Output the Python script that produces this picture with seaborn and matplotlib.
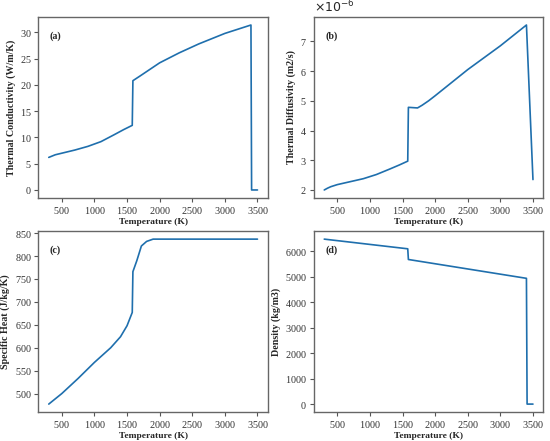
import matplotlib
matplotlib.use("Agg")
import matplotlib.pyplot as plt
from matplotlib.ticker import MultipleLocator
import seaborn as sns
import pandas as pd

# temperature dependent properties
temp_cond = [300, 400, 500, 700, 900, 1100, 1300, 1450, 1580, 1590, 1700, 2000,
             2300, 2600, 3000, 3400, 3410, 3500]
conductivity = [6.2, 6.7, 7.0, 7.6, 8.3, 9.2, 10.5, 11.5, 12.3, 20.8, 21.7, 24.2,
                26.1, 27.8, 29.8, 31.4, 0.0, 0.0]

temp_diff = [300, 350, 400, 500, 700, 900, 1100, 1300, 1450, 1580, 1590, 1730,
             1800, 1900, 2000, 2500, 3000, 3400, 3500]
diffusivity = [2.0e-6, 2.06e-6, 2.11e-6, 2.18e-6, 2.28e-6, 2.38e-6, 2.52e-6, 2.7e-6,
               2.84e-6, 2.97e-6, 4.78e-6, 4.76e-6, 4.85e-6, 5.0e-6, 5.17e-6,
               6.05e-6, 6.85e-6, 7.55e-6, 2.35e-6]

temp_cp = [300, 500, 750, 1000, 1250, 1400, 1500, 1580, 1590, 1650, 1720, 1800,
           1900, 3500]
specific_heat = [477, 500, 533, 568, 600, 624, 648, 677, 766, 790, 822, 832,
                 837, 837]

temp_rho = [300, 1580, 1590, 3400, 3410, 3500]
density = [6480, 6100, 5680, 4940, 0, 0]

panels = [
    ("(a)", temp_cond, conductivity, "Thermal Conductivity (W/m/K)", 5),
    ("(b)", temp_diff, diffusivity, "Thermal Diffusivity (m2/s)", 1e-6),
    ("(c)", temp_cp, specific_heat, "Specific Heat (J/kg/K)", 50),
    ("(d)", temp_rho, density, "Density (kg/m3)", 1000),
]

sns.set_style("ticks")
plt.rcParams["font.family"] = ["DejaVu Sans"]
plt.rcParams["axes.formatter.use_mathtext"] = True

serif = "Liberation Serif"
line_color = "#1f6fad"

fig, axes = plt.subplots(2, 2, figsize=(5.5, 4.41), dpi=100)
fig.subplots_adjust(left=0.0697, right=0.988, top=0.962, bottom=0.065,
                    wspace=0.2, hspace=0.18)

for ax, (tag, t, y, ylabel, ystep) in zip(axes.flat, panels):
    df = pd.DataFrame({"T": t, "v": y})
    sns.lineplot(data=df, x="T", y="v", ax=ax, color=line_color, linewidth=1.2,
                 sort=False, estimator=None)
    ax.set_xlabel("Temperature (K)", fontsize=6.8, fontweight="bold",
                  family=serif, labelpad=1)
    ax.set_ylabel(ylabel, fontsize=7.2, fontweight="bold", family=serif, labelpad=3)
    ax.xaxis.set_major_locator(MultipleLocator(500))
    ax.yaxis.set_major_locator(MultipleLocator(ystep))
    ax.set_xlim(140, 3660)
    fig.canvas.draw()
    for lab in ax.get_xticklabels() + ax.get_yticklabels():
        lab.set_family(serif)
        lab.set_fontsize(7.3)
        lab.set_color("#333333")
    ax.tick_params(length=3, width=0.8, color="#555555", pad=2)
    for sp in ax.spines.values():
        sp.set_color("#666666")
        sp.set_linewidth(1.0)
    ax.text(0.05, 0.894, tag, transform=ax.transAxes, fontsize=7.2,
            fontweight="bold", family=serif, va="center", ha="left")

axes[0, 1].yaxis.get_offset_text().set_fontsize(9)

fig.savefig("out.png", dpi=100)
